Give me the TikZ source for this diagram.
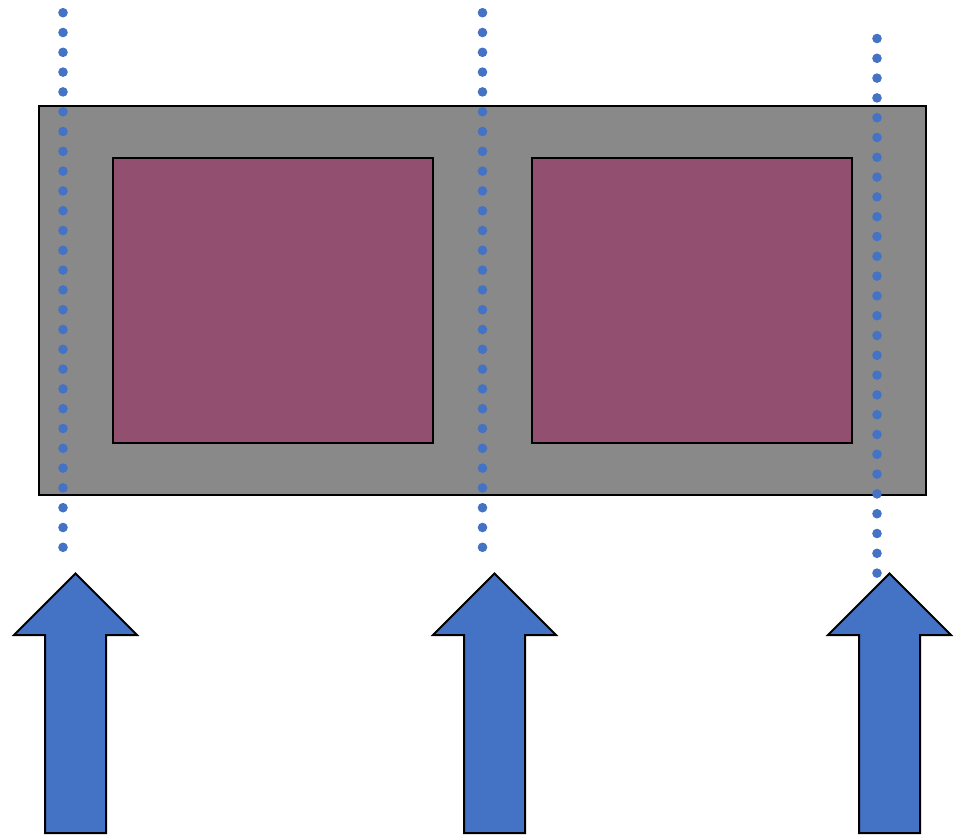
\documentclass[tikz,border=0pt]{standalone}
\definecolor{frame}{HTML}{898989}
\definecolor{cell}{HTML}{934F6F}
\definecolor{beam}{HTML}{4472C4}
\tikzset{
  panel/.style={fill=frame, draw=black, line width=2pt},
  window/.style={fill=cell, draw=black, line width=2pt},
  ray/.style={draw=beam, line width=9.6pt, line cap=round, dash pattern=on 0pt off 19.8pt},
  uparrow/.style={fill=beam, draw=black, line width=2pt, line join=miter}
}
\begin{document}
\begin{tikzpicture}[x=1pt, y=-1pt]
  \useasboundingbox (0,0) rectangle (959,835);

  % frame with two cells
  \path[panel] (39,106) rectangle (926,495);
  \path[window] (113,157.5) rectangle (433,443);
  \path[window] (532,157.5) rectangle (852,443);

  % dotted rays
  \coordinate (r1top) at (63,12.7);
  \coordinate (r1bot) at (63,547.3);
  \coordinate (r2top) at (482.5,12.7);
  \coordinate (r2bot) at (482.5,547.3);
  \coordinate (r3top) at (877,38.5);
  \coordinate (r3bot) at (877,573.1);
  \draw[ray] (r1top) -- (r1bot);
  \draw[ray] (r2top) -- (r2bot);
  \draw[ray] (r3top) -- (r3bot);

  % block arrows pointing up
  \foreach \c/\n in {75.5/a1, 494.5/a2, 889.5/a3}{
    \path[uparrow] (\c,573.5) -- (\c+61.5,635) -- (\c+30.5,635) -- (\c+30.5,833)
      -- (\c-30.5,833) -- (\c-30.5,635) -- (\c-61.5,635) -- cycle;
  }
\end{tikzpicture}
\end{document}
